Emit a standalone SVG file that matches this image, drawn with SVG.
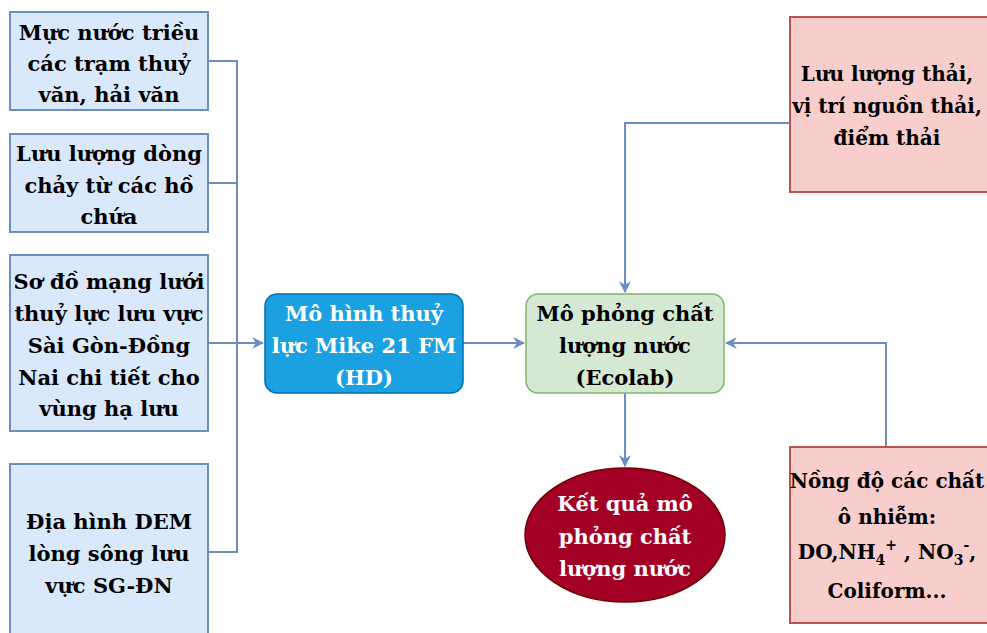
<svg xmlns="http://www.w3.org/2000/svg" width="987" height="633" viewBox="0 0 987 633">
<style>
.in{fill:#dae8fc;stroke:#6c8ebf;stroke-width:2}
.pk{fill:#f8cecc;stroke:#b85450;stroke-width:2}
.t{font-family:'DejaVu Serif',serif;font-weight:700;font-size:21px;text-anchor:middle;fill:#000}
.r{font-size:20px}
.w{fill:#fff}
.s{font-size:14px}
.c{fill:none;stroke:#6c8ebf;stroke-width:2}
</style>
<defs>
<marker id="ar" viewBox="0 0 10 10" refX="9" refY="5" markerWidth="6" markerHeight="6" orient="auto" markerUnits="strokeWidth">
<path d="M0,0 L10,5 L0,10 L3,5 Z" fill="#6c8ebf"/>
</marker>
</defs>
<rect width="987" height="633" fill="#fff"/>
<g id="connectors">
<path class="c" d="M208,61 H237 V552 H208"/>
<path class="c" d="M208,183 H237"/>
<path class="c" d="M208,343 H263" marker-end="url(#ar)"/>
<path class="c" d="M463,343 H524" marker-end="url(#ar)"/>
<path class="c" d="M790,123 H625 V292" marker-end="url(#ar)"/>
<path class="c" d="M886,447 V343 H726" marker-end="url(#ar)"/>
<path class="c" d="M625,393 V466" marker-end="url(#ar)"/>
</g>
<g id="n1">
<rect class="in" x="10" y="12" width="198" height="98"/>
<text class="t"><tspan x="109" y="40">Mực nước triều</tspan><tspan x="109" y="71">các trạm thuỷ</tspan><tspan x="109" y="102">văn, hải văn</tspan></text>
</g>
<g id="n2">
<rect class="in" x="10" y="134" width="198" height="98"/>
<text class="t"><tspan x="109" y="161">Lưu lượng dòng</tspan><tspan x="109" y="193">chảy từ các hồ</tspan><tspan x="109" y="224">chứa</tspan></text>
</g>
<g id="n3">
<rect class="in" x="10" y="255" width="198" height="176"/>
<text class="t"><tspan x="109" y="289">Sơ đồ mạng lưới</tspan><tspan x="109" y="321">thuỷ lực lưu vực</tspan><tspan x="109" y="353">Sài Gòn-Đồng</tspan><tspan x="109" y="385">Nai chi tiết cho</tspan><tspan x="109" y="416">vùng hạ lưu</tspan></text>
</g>
<g id="n4">
<rect class="in" x="10" y="464" width="198" height="180"/>
<text class="t"><tspan x="109" y="529">Địa hình DEM</tspan><tspan x="109" y="561">lòng sông lưu</tspan><tspan x="109" y="593">vực SG-ĐN</tspan></text>
</g>
<g id="hd">
<rect x="265" y="294" width="198" height="99" rx="12" fill="#1ba1e2" stroke="#006eaf" stroke-width="1.5"/>
<text class="t w"><tspan x="364" y="321">Mô hình thuỷ</tspan><tspan x="364" y="353">lực Mike 21 FM</tspan><tspan x="364" y="385">(HD)</tspan></text>
</g>
<g id="ecolab">
<rect x="526" y="294" width="198" height="99" rx="12" fill="#d5e8d4" stroke="#82b366" stroke-width="1.5"/>
<text class="t"><tspan x="625" y="321">Mô phỏng chất</tspan><tspan x="625" y="353">lượng nước</tspan><tspan x="625" y="385">(Ecolab)</tspan></text>
</g>
<g id="waste">
<rect class="pk" x="790" y="17" width="198" height="175"/>
<text class="t r"><tspan x="887" y="81">Lưu lượng thải,</tspan><tspan x="887" y="113">vị trí nguồn thải,</tspan><tspan x="887" y="145">điểm thải</tspan></text>
</g>
<g id="pollut">
<rect class="pk" x="790" y="447" width="198" height="176"/>
<text class="t r"><tspan x="887" y="488">Nồng độ các chất</tspan><tspan x="887" y="524">ô nhiễm:</tspan><tspan x="887" y="559">DO,NH<tspan class="s" dy="6">4</tspan><tspan class="s" dy="-15">+</tspan><tspan dy="9"> , NO</tspan><tspan class="s" dy="6">3</tspan><tspan class="s" dy="-15">-</tspan><tspan dy="9">,</tspan></tspan><tspan x="887" y="598">Coliform...</tspan></text>
</g>
<g id="result">
<ellipse cx="625" cy="535" rx="100" ry="67" fill="#a20025" stroke="#6f0000" stroke-width="1.5"/>
<text class="t w"><tspan x="625" y="511">Kết quả mô</tspan><tspan x="625" y="544">phỏng chất</tspan><tspan x="625" y="576">lượng nước</tspan></text>
</g>
</svg>
